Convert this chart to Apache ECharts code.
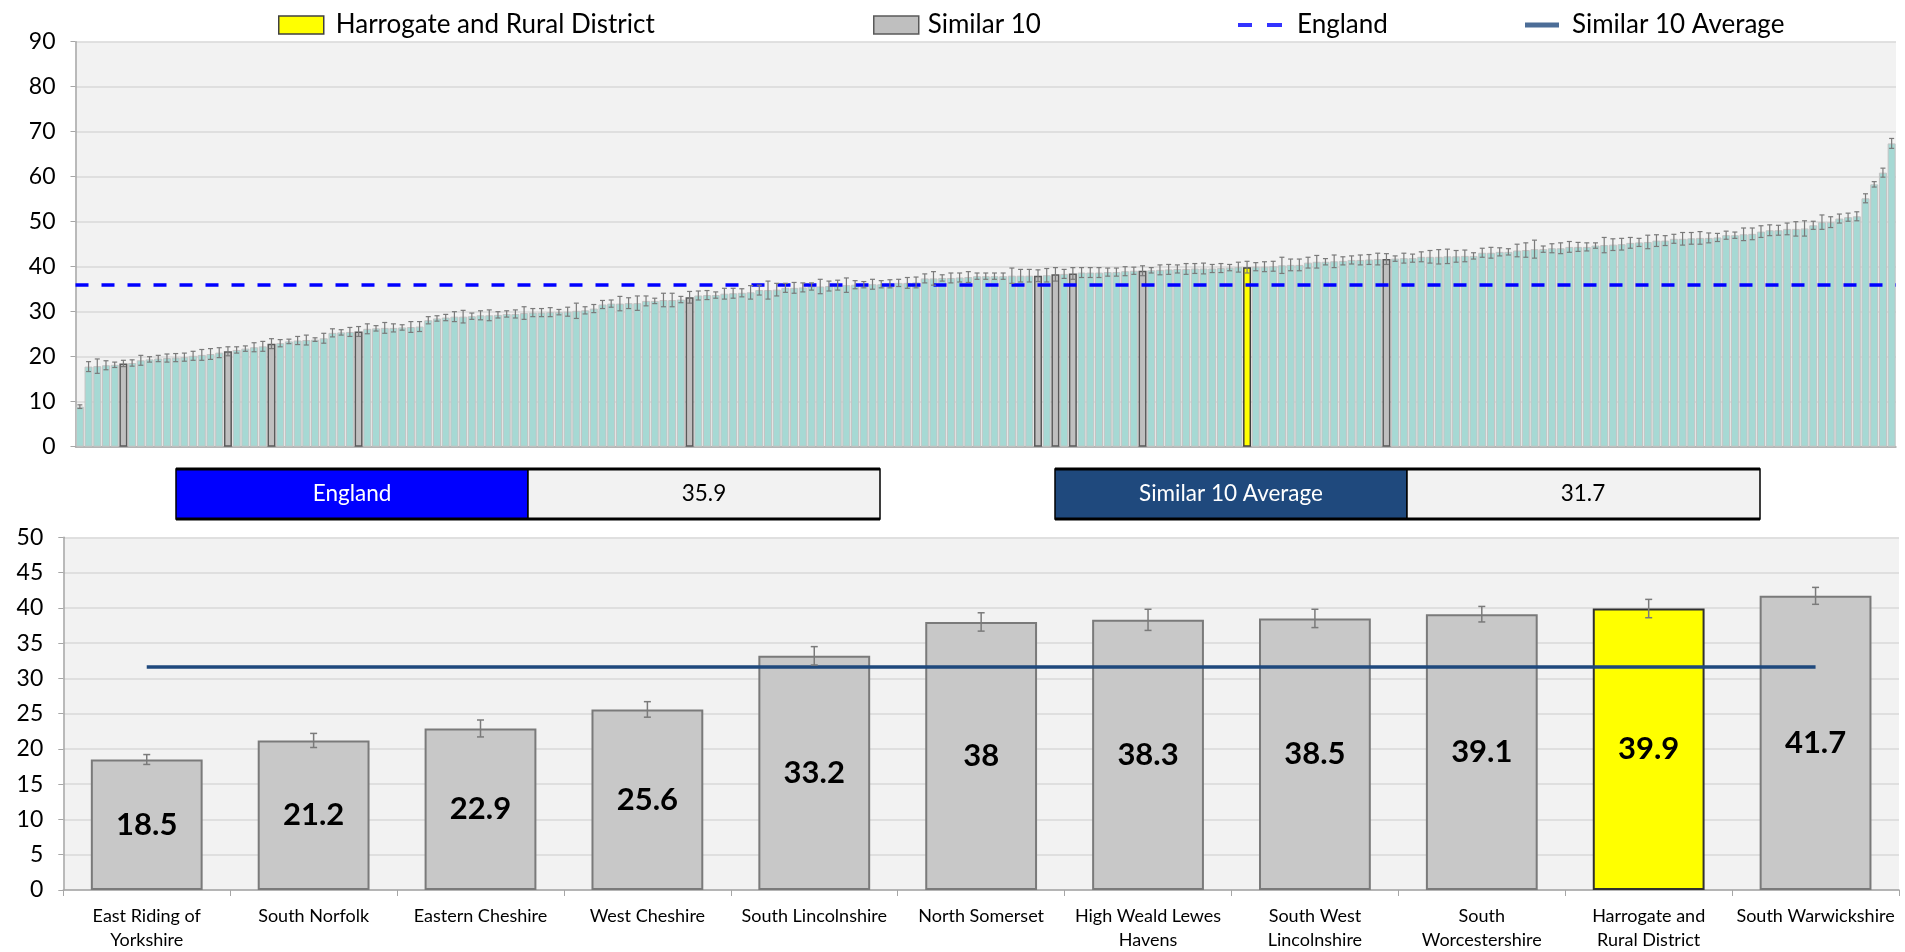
<!DOCTYPE html>
<html><head><meta charset="utf-8">
<script src="https://cdn.jsdelivr.net/npm/echarts@6/dist/echarts.min.js"></script>
<style>html,body{margin:0;padding:0;background:#fff}#c{width:1905px;height:952px}</style>
</head><body><div id="c"></div>
<script>
// ---- data ----
const topValues = [
 8.9,17.8,17.9,18.1,18.2,18.5,18.6,19.2,19.4,19.6,
 19.7,19.8,19.9,20.2,20.4,20.6,20.9,21.2,21.5,21.8,
 22.1,22.3,22.9,23.0,23.4,23.6,23.7,23.8,24.1,25.3,
 25.4,25.5,25.6,26.2,26.3,26.4,26.4,26.5,26.6,26.7,
 28.1,28.5,28.7,28.9,28.9,29.0,29.2,29.2,29.3,29.5,
 29.5,29.7,29.8,29.8,29.9,29.9,30.0,30.2,30.3,30.7,
 31.6,31.8,31.8,31.9,31.9,32.4,32.4,32.6,32.6,32.7,
 33.2,33.6,33.7,33.7,34.0,34.1,34.2,34.3,34.8,34.8,
 34.9,35.3,35.3,35.4,35.6,35.6,35.7,35.9,35.9,36.0,
 36.0,36.1,36.1,36.2,36.4,36.4,36.5,37.4,37.4,37.5,
 37.5,37.6,37.7,37.9,37.9,37.9,37.9,38.0,38.0,38.0,
 38.0,38.1,38.3,38.4,38.5,38.7,38.7,38.7,38.8,38.8,
 39.0,39.1,39.1,39.2,39.3,39.4,39.5,39.5,39.6,39.6,
 39.6,39.7,39.8,39.9,39.9,40.0,40.0,40.1,40.3,40.4,
 40.4,40.9,41.1,41.1,41.2,41.3,41.5,41.5,41.6,41.7,
 41.7,41.8,41.9,41.9,42.2,42.2,42.2,42.3,42.3,42.4,
 42.4,43.1,43.1,43.3,43.3,43.6,43.7,43.9,43.9,44.1,
 44.1,44.4,44.4,44.4,44.7,44.8,44.9,45.0,45.3,45.4,
 45.5,45.8,45.8,46.2,46.2,46.3,46.4,46.4,46.5,47.0,
 47.0,47.2,47.3,47.8,48.1,48.1,48.4,48.4,48.5,49.2,
 49.9,49.9,50.7,51.0,51.2,55.2,58.3,60.9,67.4
];
const topErr = [
 0.4,1.1,1.6,1.0,0.6,0.7,0.7,1.1,0.6,0.7,
 0.9,0.9,0.9,1.0,1.2,1.2,1.1,1.0,0.7,0.6,
 1.0,1.1,1.1,0.8,0.5,0.9,1.1,0.4,1.1,0.9,
 0.6,1.0,1.1,1.1,0.6,1.2,0.9,0.6,1.2,1.1,
 0.8,0.6,0.7,1.1,1.4,0.7,1.0,1.2,0.7,0.7,
 0.9,1.4,0.9,0.9,1.0,0.6,1.0,1.7,0.8,0.9,
 0.9,0.8,1.6,1.2,1.6,1.1,0.6,1.5,1.5,0.7,
 1.3,1.0,1.0,0.7,1.2,1.1,0.9,1.5,1.1,2.0,
 1.4,1.0,1.2,1.0,0.8,1.6,1.1,1.1,1.6,0.9,
 0.7,1.1,0.8,0.9,0.8,1.2,1.2,1.0,1.5,0.7,
 1.1,1.0,1.2,0.7,0.7,0.7,0.7,1.7,1.4,1.4,
 1.3,1.5,1.5,1.0,1.3,1.1,1.1,1.1,0.9,0.9,
 1.0,0.8,1.1,0.6,1.1,1.1,0.9,1.2,1.1,1.2,
 0.9,1.0,0.7,1.1,1.3,0.9,1.1,1.1,1.8,1.3,
 1.3,1.2,1.4,0.7,1.4,0.9,0.9,1.1,1.1,1.3,
 1.2,0.6,1.1,0.9,1.1,1.4,1.6,1.6,1.3,1.3,
 0.7,1.0,1.2,0.9,0.7,1.4,1.6,2.0,0.7,1.0,
 1.2,1.2,1.0,0.9,0.6,1.7,1.3,1.3,1.2,0.9,
 1.5,1.3,1.1,1.0,1.4,1.3,1.4,1.1,0.9,0.9,
 0.7,1.4,1.3,1.3,1.2,1.1,1.3,1.6,1.7,0.9,
 1.6,1.2,1.0,0.9,1.0,1.0,0.6,1.0,1.1
];
const similarRanks = [5, 17, 22, 32, 70, 110, 112, 114, 122, 150];
const harrogateRank = 134;
const englandValue = 35.9;
const similarAverage = 31.7;
const bottomNames = ['East Riding of Yorkshire','South Norfolk','Eastern Cheshire','West Cheshire','South Lincolnshire','North Somerset','High Weald Lewes Havens','South West Lincolnshire','South Worcestershire','Harrogate and Rural District','South Warwickshire'];
const bottomValues = [18.5, 21.2, 22.9, 25.6, 33.2, 38, 38.3, 38.5, 39.1, 39.9, 41.7];
const bottomErr = [0.7, 1.0, 1.2, 1.1, 1.3, 1.3, 1.5, 1.3, 1.1, 1.3, 1.2];
const harrogateName = 'Harrogate and Rural District';
const topAxis = {min: 0, max: 90, interval: 10};
const bottomAxis = {min: 0, max: 50, interval: 5};

// ---- chart ----
const FONT = 'Lato';
const chart = echarts.init(document.getElementById('c'));
const cats = topValues.map((_, i) => String(i + 1));
const isSim = i => similarRanks.indexOf(i) >= 0;
const tealData = topValues.map((v, i) => (isSim(i) || i === harrogateRank) ? '-' : v);
const grayData = topValues.map((v, i) => isSim(i) ? v : '-');
const yellowData = topValues.map((v, i) => i === harrogateRank ? v : '-');

function errRender(capHalf, lw) {
  return function (params, api) {
    const x = api.value(0), lo = api.value(1), hi = api.value(2);
    const p1 = api.coord([x, lo]), p2 = api.coord([x, hi]);
    const st = {stroke: '#7A7A7A', lineWidth: lw};
    return {type: 'group', children: [
      {type: 'line', shape: {x1: p1[0], y1: p1[1], x2: p2[0], y2: p2[1]}, style: st},
      {type: 'line', shape: {x1: p1[0] - capHalf, y1: p1[1], x2: p1[0] + capHalf, y2: p1[1]}, style: st},
      {type: 'line', shape: {x1: p2[0] - capHalf, y1: p2[1], x2: p2[0] + capHalf, y2: p2[1]}, style: st}
    ]};
  };
}

function wrapLabel(s) {
  const words = s.split(' ');
  const lines = [];
  let cur = '';
  words.forEach(w => {
    if (!cur) cur = w;
    else if ((cur + ' ' + w).length <= 18) cur += ' ' + w;
    else { lines.push(cur); cur = w; }
  });
  if (cur) lines.push(cur);
  return lines.join('\n');
}

const legendText = {fontFamily: FONT, fontSize: 26, color: '#000'};
const axisLbl = {fontFamily: FONT, fontSize: 23, color: '#000', margin: 20};

const option = {
  backgroundColor: '#fff',
  animation: false,
  legend: [
    {left: 278, top: 12, padding: 0, selectedMode: false, itemWidth: 45, itemHeight: 18,
     data: [{name: harrogateName, icon: 'rect', itemStyle: {color: '#FFFF00', borderColor: '#404040', borderWidth: 1.5}}],
     textStyle: Object.assign({padding: [0, 0, 0, 7]}, legendText)},
    {left: 873, top: 12, padding: 0, selectedMode: false, itemWidth: 45, itemHeight: 18,
     data: [{name: 'Similar 10', icon: 'rect', itemStyle: {color: '#BFBFBF', borderColor: '#595959', borderWidth: 1.5}}],
     textStyle: Object.assign({padding: [0, 0, 0, 4]}, legendText)},
    {left: 1238, top: 12, padding: 0, selectedMode: false, itemWidth: 44, itemHeight: 4,
     data: [{name: 'England', icon: 'path://M0,0H14V4H0Z M29,0H44V4H29Z', itemStyle: {color: '#0000FF'}}],
     textStyle: Object.assign({padding: [0, 0, 0, 10]}, legendText)},
    {left: 1525, top: 12, padding: 0, selectedMode: false, itemWidth: 34, itemHeight: 5,
     data: [{name: 'Similar 10 Average', icon: 'rect', itemStyle: {color: '#1F497D'}}],
     textStyle: Object.assign({padding: [0, 0, 0, 8]}, legendText)}
  ],
  grid: [
    {left: 75.5, right: 9, top: 41.7, height: 405, show: true, backgroundColor: '#F2F2F2', borderWidth: 0},
    {left: 63.3, right: 6, top: 537.3, height: 353.3, show: true, backgroundColor: '#F2F2F2', borderWidth: 0}
  ],
  xAxis: [
    {type: 'category', gridIndex: 0, data: cats, axisLabel: {show: false}, axisTick: {show: false},
     axisLine: {lineStyle: {color: '#A6A6A6', width: 1.5}}},
    {type: 'category', gridIndex: 1, data: bottomNames,
     axisLabel: {fontFamily: FONT, fontSize: 18, color: '#000', lineHeight: 24, margin: 14, interval: 0, formatter: wrapLabel},
     axisTick: {show: true, length: 6, lineStyle: {color: '#A6A6A6'}},
     axisLine: {lineStyle: {color: '#A6A6A6', width: 1.5}}}
  ],
  yAxis: [
    {type: 'value', gridIndex: 0, min: topAxis.min, max: topAxis.max, interval: topAxis.interval,
     axisLabel: axisLbl, axisLine: {show: true, lineStyle: {color: '#A6A6A6', width: 1.5}},
     axisTick: {show: true, length: 5, lineStyle: {color: '#A6A6A6'}},
     splitLine: {lineStyle: {color: '#D9D9D9', width: 1.5}}},
    {type: 'value', gridIndex: 1, min: bottomAxis.min, max: bottomAxis.max, interval: bottomAxis.interval,
     axisLabel: axisLbl, axisLine: {show: true, lineStyle: {color: '#A6A6A6', width: 1.5}},
     axisTick: {show: true, length: 5, lineStyle: {color: '#A6A6A6'}},
     splitLine: {lineStyle: {color: '#D9D9D9', width: 1.5}}}
  ],
  series: [
    {name: 'All areas', type: 'bar', xAxisIndex: 0, yAxisIndex: 0, data: tealData, barGap: '-100%', barCategoryGap: '8%',
     itemStyle: {color: '#A6D9D4', borderColor: '#C3C3C3', borderWidth: 1}},
    {name: 'Similar 10', type: 'bar', xAxisIndex: 0, yAxisIndex: 0, data: grayData, barGap: '-100%', barCategoryGap: '8%',
     itemStyle: {color: '#BFBFBF', borderColor: '#595959', borderWidth: 1.5}},
    {name: harrogateName, type: 'bar', xAxisIndex: 0, yAxisIndex: 0, data: yellowData, barGap: '-100%', barCategoryGap: '8%',
     itemStyle: {color: '#FFFF00', borderColor: '#404040', borderWidth: 1.5}},
    {name: 'topErr', type: 'custom', xAxisIndex: 0, yAxisIndex: 0, z: 5,
     renderItem: errRender(2.5, 1.2),
     data: topValues.map((v, i) => [i, v - topErr[i], v + topErr[i]])},
    {name: 'England', type: 'scatter', xAxisIndex: 0, yAxisIndex: 0, data: [], itemStyle: {color: '#0000FF'}, z: 6,
     markLine: {silent: true, symbol: 'none', label: {show: false},
       lineStyle: {color: '#0000FF', width: 3.5, type: [13, 13]},
       data: [{yAxis: englandValue}]}},
    {name: 'bottomBars', type: 'bar', xAxisIndex: 1, yAxisIndex: 1, barWidth: '67%',
     data: bottomValues.map((v, i) => ({value: v, itemStyle: {color: bottomNames[i] === harrogateName ? '#FFFF00' : '#C8C8C8', borderColor: bottomNames[i] === harrogateName ? '#303030' : '#7A7A7A'}})),
     itemStyle: {borderWidth: 2},
     label: {show: true, position: 'inside', fontFamily: FONT, fontWeight: 'bold', fontSize: 31, color: '#000'}},
    {name: 'bottomErr', type: 'custom', xAxisIndex: 1, yAxisIndex: 1, z: 5,
     renderItem: errRender(3.5, 1.5),
     data: bottomValues.map((v, i) => [i, v - bottomErr[i], v + bottomErr[i]])},
    {name: 'Similar 10 Average', type: 'scatter', xAxisIndex: 1, yAxisIndex: 1, data: [], itemStyle: {color: '#1F497D'}, z: 6,
     markLine: {silent: true, symbol: 'none', label: {show: false},
       lineStyle: {color: '#1F497D', width: 3.5, type: 'solid'},
       data: [[{xAxis: bottomNames[0], yAxis: similarAverage}, {xAxis: bottomNames[bottomNames.length - 1], yAxis: similarAverage}]]}}
  ],
  graphic: [
    {type: 'rect', shape: {x: 176, y: 469, width: 352, height: 50}, style: {fill: '#0000FF', stroke: '#000', lineWidth: 1.5}},
    {type: 'rect', shape: {x: 528, y: 469, width: 352, height: 50}, style: {fill: '#F2F2F2', stroke: '#000', lineWidth: 1.5}},
    {type: 'line', shape: {x1: 176, y1: 469, x2: 880, y2: 469}, style: {stroke: '#000', lineWidth: 3}},
    {type: 'line', shape: {x1: 176, y1: 519, x2: 880, y2: 519}, style: {stroke: '#000', lineWidth: 3}},
    {type: 'text', x: 352, y: 494, style: {text: 'England', fill: '#fff', fontFamily: FONT, fontSize: 22.5, align: 'center', verticalAlign: 'middle'}},
    {type: 'text', x: 704, y: 494, style: {text: englandValue.toFixed(1), fill: '#000', fontFamily: FONT, fontSize: 22.5, align: 'center', verticalAlign: 'middle'}},
    {type: 'rect', shape: {x: 1055, y: 469, width: 352, height: 50}, style: {fill: '#1F497D', stroke: '#000', lineWidth: 1.5}},
    {type: 'rect', shape: {x: 1407, y: 469, width: 353, height: 50}, style: {fill: '#F2F2F2', stroke: '#000', lineWidth: 1.5}},
    {type: 'line', shape: {x1: 1055, y1: 469, x2: 1760, y2: 469}, style: {stroke: '#000', lineWidth: 3}},
    {type: 'line', shape: {x1: 1055, y1: 519, x2: 1760, y2: 519}, style: {stroke: '#000', lineWidth: 3}},
    {type: 'text', x: 1231, y: 494, style: {text: 'Similar 10 Average', fill: '#fff', fontFamily: FONT, fontSize: 22.5, align: 'center', verticalAlign: 'middle'}},
    {type: 'text', x: 1583, y: 494, style: {text: similarAverage.toFixed(1), fill: '#000', fontFamily: FONT, fontSize: 22.5, align: 'center', verticalAlign: 'middle'}}
  ]
};
chart.setOption(option);
</script>
</body></html>
